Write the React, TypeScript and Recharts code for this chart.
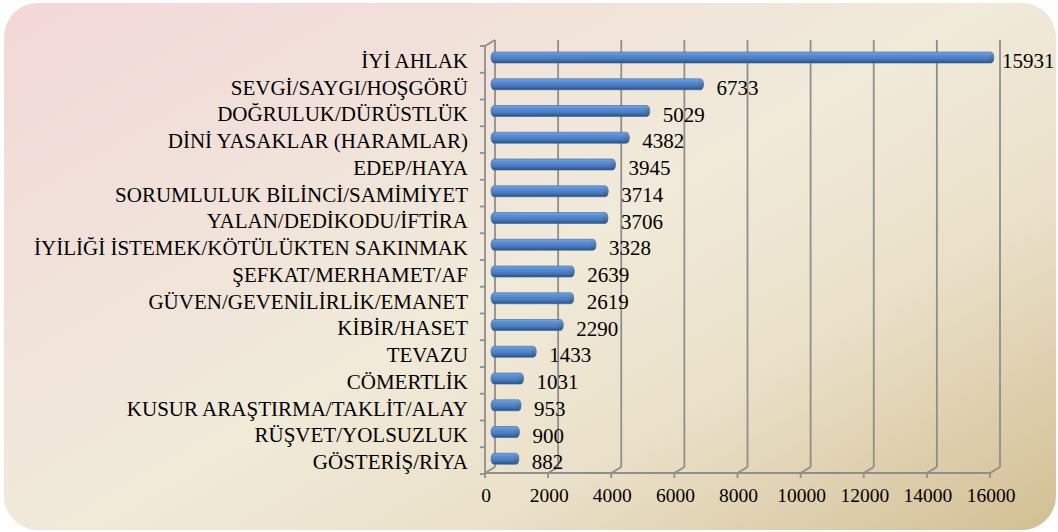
import React from 'react';
import { BarChart, Bar, XAxis, YAxis, CartesianGrid, LabelList } from 'recharts';

const categories = [
  'İYİ AHLAK',
  'SEVGİ/SAYGI/HOŞGÖRÜ',
  'DOĞRULUK/DÜRÜSTLÜK',
  'DİNİ YASAKLAR (HARAMLAR)',
  'EDEP/HAYA',
  'SORUMLULUK BİLİNCİ/SAMİMİYET',
  'YALAN/DEDİKODU/İFTİRA',
  'İYİLİĞİ İSTEMEK/KÖTÜLÜKTEN SAKINMAK',
  'ŞEFKAT/MERHAMET/AF',
  'GÜVEN/GEVENİLİRLİK/EMANET',
  'KİBİR/HASET',
  'TEVAZU',
  'CÖMERTLİK',
  'KUSUR ARAŞTIRMA/TAKLİT/ALAY',
  'RÜŞVET/YOLSUZLUK',
  'GÖSTERİŞ/RİYA',
];

const values = [15931, 6733, 5029, 4382, 3945, 3714, 3706, 3328, 2639, 2619, 2290, 1433, 1031, 953, 900, 882];

const xTicks = [0, 2000, 4000, 6000, 8000, 10000, 12000, 14000, 16000];

const data = categories.map((name, i) => ({ name, value: values[i] }));

const W = 1058;
const H = 532;
const FONT = '"Liberation Serif", "Times New Roman", serif';
const GRID = '#8e8e8e';
// 3d depth offset of the front plane
const DX = -10;
const DY = 6;
const PLOT_W = 505;
const BAND = 428 / 16;

const gridLine = (props: any) => {
  const { x1, y1, y2, index } = props;
  const top = y1 - 3;
  const bot = y2 - 4;
  const fx = x1 + DX;
  const fb = bot + DY;
  const wall: React.ReactNode[] = [];
  if (index === 0) {
    wall.push(<line key="d" x1={x1} y1={top} x2={fx} y2={top + DY} />);
    wall.push(<line key="f" x1={fx} y1={top + DY} x2={fx} y2={fb} />);
    wall.push(<line key="b" x1={fx} y1={fb} x2={fx + PLOT_W} y2={fb} />);
    for (let i = 0; i <= 16; i++) {
      const ty = top + DY + i * BAND;
      wall.push(<line key={'t' + i} x1={fx - 5} y1={ty} x2={fx} y2={ty} />);
    }
  }
  return (
    <g key={`vg-${index}`} stroke={GRID} strokeWidth={1.8} fill="none">
      <line x1={x1} y1={top} x2={x1} y2={bot} />
      <line x1={x1} y1={bot} x2={fx} y2={fb} />
      <line x1={fx} y1={fb} x2={fx} y2={fb + 5} />
      {wall}
    </g>
  );
};

const CylBar = (props: any) => {
  const { x, y, width, height } = props;
  if (!width || width <= 0) return null;
  const bx = x - 4;
  const by = y + 1;
  return (
    <g>
      <rect x={bx} y={by} width={width} height={height} rx={3} ry={height / 2} fill="url(#cyl)" stroke="#3a6299" strokeWidth={0.6} />
      <ellipse cx={bx + width - 2.5} cy={by + height / 2} rx={2.5} ry={height / 2 - 0.3} fill="url(#cap)" />
    </g>
  );
};

const CatTick = (props: any) => {
  const { y, payload } = props;
  return (
    <text x={468} y={y + 11.5} textAnchor="end" fontSize={21} fontFamily={FONT} fill="#000">
      {payload.value}
    </text>
  );
};

const ValTick = (props: any) => {
  const { x, payload } = props;
  return (
    <text x={x + DX + 1} y={502} textAnchor="middle" fontSize={19.5} fontFamily={FONT} fill="#000">
      {payload.value}
    </text>
  );
};

// value label right of the bar, kept inside the chart area like Excel does
const ValueLabel = (props: any) => {
  const { x, y, width, height, value } = props;
  const lx = Math.min(x + width + 9, 1002);
  return (
    <text x={lx} y={y + height / 2 + 11.5} textAnchor="start" fontSize={21} fontFamily={FONT} fill="#000">
      {value}
    </text>
  );
};

export default function App() {
  return (
    <div style={{ position: 'absolute', left: 0, top: 0, width: W, height: H, background: '#fff' }}>
      <div
        style={{
          position: 'absolute',
          left: 4,
          top: 3,
          width: 1052,
          height: 527,
          borderRadius: 34,
          background: 'linear-gradient(150deg, #f2d8d8 0%, #f1e2da 28%, #f0ead9 50%, #ebe1ca 70%, #d2bf93 100%)',
        }}
      />
      <div style={{ position: 'absolute', left: 0, top: 0 }}>
        <BarChart width={W} height={H} data={data} layout="vertical" margin={{ top: 43, right: 58, bottom: 0, left: 0 }} barSize={11}>
          <defs>
            <linearGradient id="cyl" x1="0" y1="0" x2="0" y2="1">
              <stop offset="0%" stopColor="#7aa6e0" />
              <stop offset="25%" stopColor="#5a8fd6" />
              <stop offset="60%" stopColor="#4a7ec4" />
              <stop offset="85%" stopColor="#36649f" />
              <stop offset="100%" stopColor="#2a4f80" />
            </linearGradient>
            <linearGradient id="cap" x1="0" y1="0" x2="0" y2="1">
              <stop offset="0%" stopColor="#6f9ad0" />
              <stop offset="100%" stopColor="#2f5a90" />
            </linearGradient>
          </defs>
          <CartesianGrid horizontal={false} vertical={gridLine} />
          <XAxis
            type="number"
            domain={[0, 16000]}
            ticks={xTicks}
            height={61}
            axisLine={false}
            tickLine={false}
            tick={<ValTick />}
            interval={0}
          />
          <YAxis
            type="category"
            dataKey="name"
            width={495}
            axisLine={false}
            tickLine={false}
            tick={<CatTick />}
            interval={0}
          />
          <Bar dataKey="value" shape={<CylBar />} isAnimationActive={false}>
            <LabelList dataKey="value" content={<ValueLabel />} />
          </Bar>
        </BarChart>
      </div>
    </div>
  );
}
